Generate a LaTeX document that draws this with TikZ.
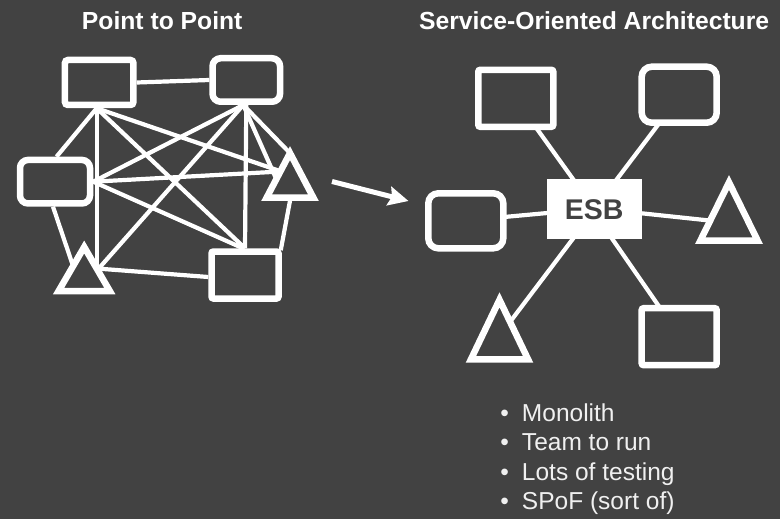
\documentclass[tikz,border=0pt]{standalone}
\usepackage{fontspec}
\setmainfont{Liberation Sans}
\usetikzlibrary{calc,arrows.meta}
\pgfdeclarelayer{back}
\pgfdeclarelayer{edges}
\pgfsetlayers{back,edges,main}
\definecolor{bg}{RGB}{66,66,66}
\definecolor{txt}{RGB}{240,240,240}
\newcommand{\itemdot}{\llap{\makebox[21.6pt][l]{•}}}
\tikzset{
  box/.style={draw=white,fill=bg,line width=6.5pt,inner sep=0pt},
  tri/.style={draw=white,fill=bg,line width=6.5pt,line join=miter},
  link/.style={draw=white,line width=4.2pt},
  title/.style={text=white,font=\bfseries\fontsize{24.7}{29}\selectfont,anchor=base,inner sep=0pt},
  item/.style={text=txt,font=\fontsize{24.5}{29}\selectfont,anchor=base west,inner sep=0pt},
  bus/.style={fill=white,inner sep=0pt,minimum width=95pt,minimum height=60pt,text=bg,font=\bfseries\fontsize{28.5}{30}\selectfont},
  flow/.style={draw=white,line width=5pt,-{Stealth[length=20pt,width=19pt,inset=3pt]}}
}
\begin{document}
\begin{tikzpicture}[x=1pt,y=-1pt]
\useasboundingbox (0,0) rectangle (780,519);
\begin{pgfonlayer}{back}
\fill[bg] (0,0) rectangle (780,519);
\end{pgfonlayer}

% titles
\node[title] (t1) at (162.2,29.3) {Point to Point};
\node[title] (t2) at (594.2,29.3) {Service-Oriented Architecture};

% ---- point to point ----
\node[box,rounded corners=3pt,minimum width=68.5pt,minimum height=45pt] (A) at (99.2,82.5) {};
\node[box,rounded corners=8pt,minimum width=67.5pt,minimum height=43.5pt] (B) at (246.3,80) {};
\node[box,rounded corners=8pt,minimum width=70pt,minimum height=43.5pt] (C) at (55,181.7) {};
\node[box,rounded corners=2pt,minimum width=67pt,minimum height=47pt] (F) at (245,275) {};
\coordinate (D) at (290,182);
\coordinate (E) at (84.2,276);
\draw[tri] ($(D)+(0,-28.9)$) coordinate (Dtop) -- ($(D)+(23.4,15.7)$) -- ($(D)+(-23.4,15.7)$) -- cycle;
\draw[tri] ($(E)+(0,-29)$) coordinate (Etop) -- ($(E)+(25.6,15)$) -- ($(E)+(-25.6,15)$) -- cycle;

\coordinate (pA) at ($(A.south)+(-2.5,0)$);
\coordinate (pB) at ($(B.south)+(-3,0)$);
\begin{pgfonlayer}{edges}
\draw[link] (A.east) -- (B.west);
\draw[link] (pA) -- ($(C.north)+(1.5,0)$);
\draw[link] (pA) -- ($(E)+(12.5,9)$);
\draw[link] (pA) -- ($(D)+(0,-7.5)$);
\draw[link] (pA) -- (F.north);
\draw[link] (pB) -- (C.east);
\draw[link] (pB) -- ($(E)+(8.8,-1)$);
\draw[link] (B.south) -- (F.north);
\draw[link] (pB) -- (Dtop);
\draw[link] (pB) -- ($(D)+(-9.3,7)$);
\draw[link] (C.east) -- ($(D)+(0,-11)$);
\draw[link] (C.east) -- ($(F.north)+(-2,0)$);
\draw[link] ($(C.south)+(-2,0)$) -- ($(E)+(-6.4,4)$);
\draw[link] ($(E)+(6,-8)$) -- ($(F.west)+(0,2)$);
\draw[link] ($(D)+(2,8)$) -- ($(F.north east)+(-1,2)$);
\end{pgfonlayer}

% ---- arrow ----
\coordinate (arrS) at (332,181.5);
\coordinate (arrE) at (408.5,201);
\draw[flow] (arrS) -- (arrE);

% ---- SOA ----
\node[bus] (K) at (594.2,209.3) {ESB};
\node[box,rounded corners=2pt,minimum width=75pt,minimum height=57pt] (G) at (515.8,98.3) {};
\node[box,rounded corners=10pt,minimum width=75pt,minimum height=56pt] (H) at (679.2,94.7) {};
\node[box,rounded corners=10pt,minimum width=75pt,minimum height=55pt] (I) at (465.8,220.8) {};
\node[box,rounded corners=2pt,minimum width=75pt,minimum height=57pt] (J) at (679.2,336.7) {};
\coordinate (T1) at (729,222);
\coordinate (T2) at (499.5,340);
\draw[tri] ($(T1)+(0,-39.6)$) -- ($(T1)+(28.7,18.7)$) -- ($(T1)+(-28.7,18.7)$) -- cycle;
\draw[tri] ($(T2)+(0,-40.2)$) -- ($(T2)+(28.6,19.4)$) -- ($(T2)+(-28.6,19.4)$) -- cycle;

\begin{pgfonlayer}{edges}
\draw[link] ($(K)+(-14.2,-20.5)$) -- ($(G)+(15,22)$);
\draw[link] ($(K)+(14.8,-19.7)$) -- ($(H)+(-14,20.7)$);
\draw[link] ($(K)+(-39.2,3)$) -- ($(I)+(34,-3.4)$);
\draw[link] ($(K)+(40.8,3.3)$) -- ($(T1)+(-14,-0.9)$);
\draw[link] ($(K)+(-10.4,15.1)$) -- ($(T2)+(1.7,-6.4)$);
\draw[link] ($(K)+(9.8,17.7)$) -- ($(J)+(-12,-18.5)$);
\end{pgfonlayer}

% ---- list ----
\node[item] (l1) at (521.8,421.7) {\itemdot Monolith};
\node[item] (l2) at (521.8,450.9) {\itemdot Team to run};
\node[item] (l3) at (521.8,480) {\itemdot Lots of testing};
\node[item] (l4) at (521.8,509) {\itemdot SPoF (sort of)};
\end{tikzpicture}
\end{document}
